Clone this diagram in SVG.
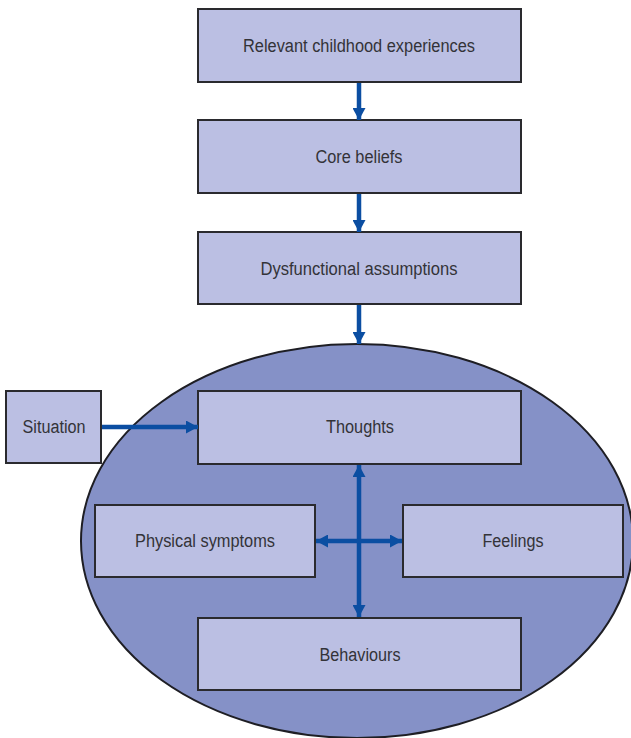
<svg xmlns="http://www.w3.org/2000/svg" width="631" height="738" viewBox="0 0 631 738">
<style>
.box{fill:#bbbfe3;stroke:#2a2a2e;stroke-width:2}
.lbl{font-family:"Liberation Sans",Arial,sans-serif;font-size:18px;fill:#333338;text-anchor:middle}
.con{stroke:#0b4ea2;stroke-width:4.5;fill:none}
</style>
<defs>
<marker id="ah" markerUnits="userSpaceOnUse" viewBox="0 0 12 13" refX="12" refY="6.5" markerWidth="12" markerHeight="13" orient="auto-start-reverse">
<path d="M0,0 L12,6.5 L0,13 Z" fill="#0b4ea2"/>
</marker>
</defs>
<rect width="631" height="738" fill="#ffffff"/>
<g id="ellipse">
<ellipse cx="357" cy="541" rx="276" ry="197" fill="#8591c7" stroke="#1e1e24" stroke-width="2"/>
</g>
<g id="n1"><rect class="box" x="198" y="9" width="323" height="73"/><text class="lbl" x="359" y="52" textLength="232" lengthAdjust="spacingAndGlyphs">Relevant childhood experiences</text></g>
<g id="n2"><rect class="box" x="198" y="120" width="323" height="73"/><text class="lbl" x="359" y="163" textLength="87" lengthAdjust="spacingAndGlyphs">Core beliefs</text></g>
<g id="n3"><rect class="box" x="198" y="232" width="323" height="72"/><text class="lbl" x="359" y="275" textLength="197" lengthAdjust="spacingAndGlyphs">Dysfunctional assumptions</text></g>
<g id="n4"><rect class="box" x="6" y="391" width="95" height="72"/><text class="lbl" x="54" y="433" textLength="63" lengthAdjust="spacingAndGlyphs">Situation</text></g>
<g id="n5"><rect class="box" x="198" y="391" width="323" height="73"/><text class="lbl" x="360" y="433" textLength="68" lengthAdjust="spacingAndGlyphs">Thoughts</text></g>
<g id="n6"><rect class="box" x="95" y="505" width="220" height="72"/><text class="lbl" x="205" y="547" textLength="140" lengthAdjust="spacingAndGlyphs">Physical symptoms</text></g>
<g id="n7"><rect class="box" x="403" y="505" width="220" height="72"/><text class="lbl" x="513" y="547" textLength="61" lengthAdjust="spacingAndGlyphs">Feelings</text></g>
<g id="n8"><rect class="box" x="198" y="618" width="323" height="72"/><text class="lbl" x="360" y="661" textLength="81" lengthAdjust="spacingAndGlyphs">Behaviours</text></g>
<g id="connectors">
<line class="con" x1="359" y1="83" x2="359" y2="120" marker-end="url(#ah)"/>
<line class="con" x1="359" y1="194" x2="359" y2="232" marker-end="url(#ah)"/>
<line class="con" x1="359" y1="305" x2="359" y2="344" marker-end="url(#ah)"/>
<line class="con" x1="102" y1="427" x2="198" y2="427" marker-end="url(#ah)"/>
<line class="con" x1="359" y1="465" x2="359" y2="617" marker-start="url(#ah)" marker-end="url(#ah)"/>
<line class="con" x1="316" y1="541" x2="402" y2="541" marker-start="url(#ah)" marker-end="url(#ah)"/>
</g>
</svg>
